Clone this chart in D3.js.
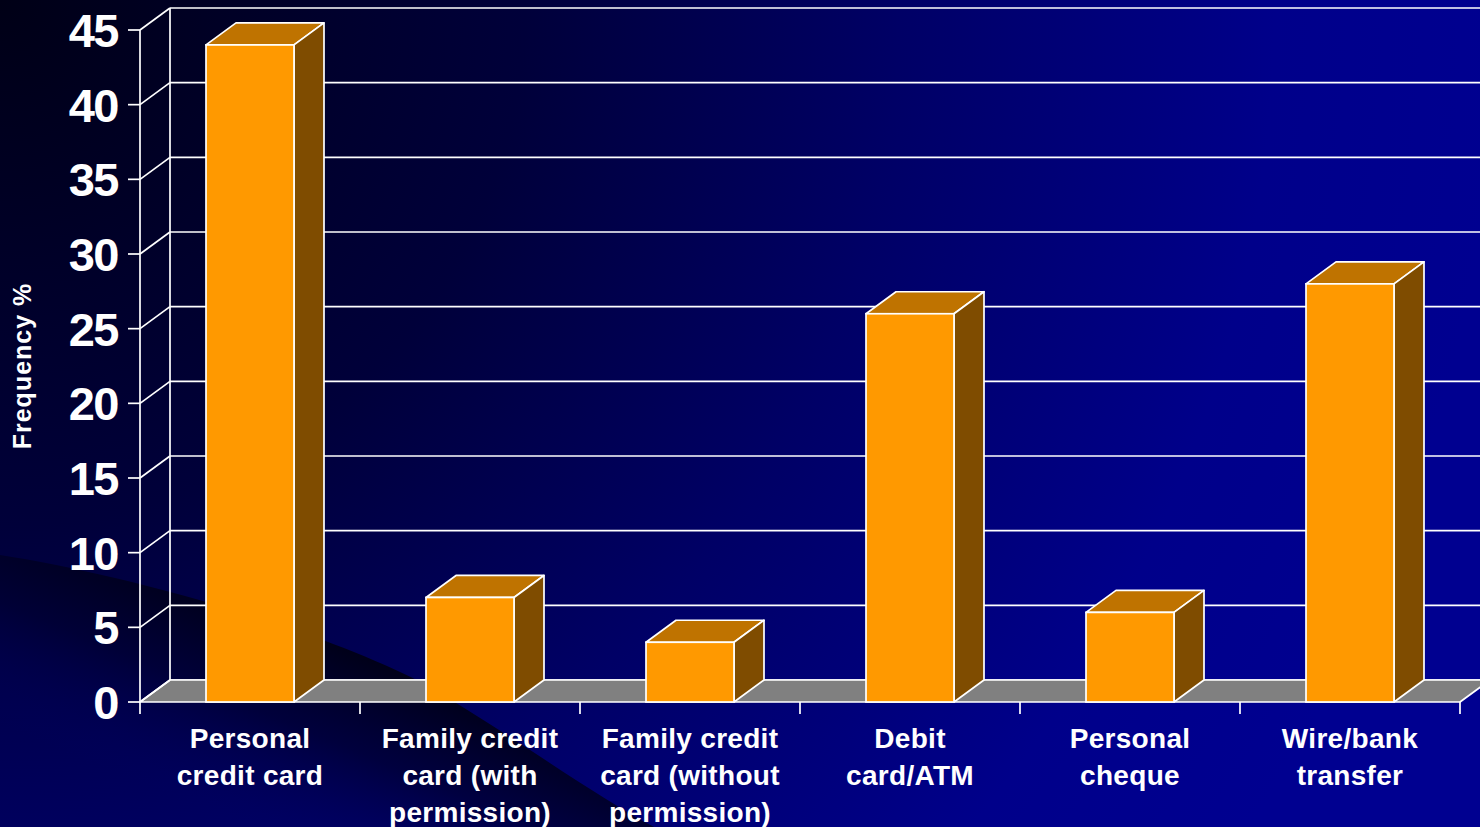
<!DOCTYPE html>
<html>
<head>
<meta charset="utf-8">
<script src="https://cdn.jsdelivr.net/npm/d3@7/dist/d3.min.js"></script>
<style>
  html, body { margin: 0; padding: 0; background: #000040; }
  svg { display: block; }
  text { font-family: "Liberation Sans", Arial, sans-serif; font-weight: bold; fill: #ffffff; }
</style>
</head>
<body>
<svg id="chart" width="1480" height="827"></svg>
<script>
// Payment method used, frequency in percent
const categories = [
  "Personal\ncredit card",
  "Family credit\ncard (with\npermission)",
  "Family credit\ncard (without\npermission)",
  "Debit\ncard/ATM",
  "Personal\ncheque",
  "Wire/bank\ntransfer"
];
const values = [44, 7, 4, 26, 6, 28];
const yTicks = [0, 5, 10, 15, 20, 25, 30, 35, 40, 45];
const yTitle = "Frequency %";

const W = 1480, H = 827;
const svg = d3.select("#chart");
const defs = svg.append("defs");

// Depth offset of the 3D back plane
const DX = 30, DY = -22;

// ---- background ----
const bg = defs.append("radialGradient")
  .attr("id", "bgGrad").attr("gradientUnits", "userSpaceOnUse")
  .attr("cx", 0).attr("cy", 0).attr("r", 1500);
bg.append("stop").attr("offset", 0).attr("stop-color", "#000016");
bg.append("stop").attr("offset", 0.35).attr("stop-color", "#00003a");
bg.append("stop").attr("offset", 0.6).attr("stop-color", "#000066");
bg.append("stop").attr("offset", 0.85).attr("stop-color", "#00008a");
bg.append("stop").attr("offset", 1).attr("stop-color", "#000090");
svg.append("rect").attr("width", W).attr("height", H).attr("fill", "url(#bgGrad)");

// darker sweep across the lower left, fading into the blue below it
const wedge = defs.append("linearGradient")
  .attr("id", "wedgeGrad").attr("gradientUnits", "userSpaceOnUse")
  .attr("x1", 330).attr("y1", 640).attr("x2", 250).attr("y2", 830);
wedge.append("stop").attr("offset", 0).attr("stop-color", "#000018").attr("stop-opacity", 1);
wedge.append("stop").attr("offset", 0.45).attr("stop-color", "#000030").attr("stop-opacity", 0.7);
wedge.append("stop").attr("offset", 1).attr("stop-color", "#000060").attr("stop-opacity", 0);
svg.append("path")
  .attr("d", "M0,555 C100,570 300,620 423,683 C520,740 600,800 660,830 L0,830 Z")
  .attr("fill", "url(#wedgeGrad)");

// ---- scales ----
const x = d3.scaleBand().domain(categories).range([140, 1460])
  .paddingInner(0.6).paddingOuter(0.3);
const y = d3.scaleLinear().domain([0, 45]).range([702, 30]);
const x0 = x.range()[0], x1 = x.range()[1];
const step = x.step();

const line = "#ffffff";
const g = svg.append("g");

// ---- back wall gridlines ----
g.selectAll("line.grid").data(yTicks).join("line")
  .attr("class", "grid")
  .attr("x1", x0 + DX).attr("x2", x1 + DX + 40)
  .attr("y1", d => y(d) + DY).attr("y2", d => y(d) + DY)
  .attr("stroke", line).attr("stroke-width", 1.7);

// left wall back edge
g.append("line").attr("x1", x0 + DX).attr("x2", x0 + DX)
  .attr("y1", y(0) + DY).attr("y2", y(45) + DY)
  .attr("stroke", line).attr("stroke-width", 1.7);

// ---- floor ----
g.append("path")
  .attr("d", `M${x0},${y(0)} L${x1},${y(0)} L${x1 + DX},${y(0) + DY} L${x0 + DX},${y(0) + DY} Z`)
  .attr("fill", "#808080").attr("stroke", line).attr("stroke-width", 1.7)
  .attr("stroke-linejoin", "round");

// depth diagonals on the left wall
g.selectAll("line.diag").data(yTicks).join("line")
  .attr("class", "diag")
  .attr("x1", x0).attr("x2", x0 + DX)
  .attr("y1", d => y(d)).attr("y2", d => y(d) + DY)
  .attr("stroke", line).attr("stroke-width", 1.7);

// front value axis
g.append("line").attr("x1", x0).attr("x2", x0)
  .attr("y1", y(0)).attr("y2", y(45))
  .attr("stroke", line).attr("stroke-width", 1.7);

// ---- bars (top, side, front) ----
const bars = g.selectAll("g.bar").data(categories.map((c, i) => ({ c, v: values[i] })))
  .join("g").attr("class", "bar");

bars.append("path")
  .attr("d", d => {
    const l = x(d.c), r = l + x.bandwidth(), t = y(d.v);
    return `M${l},${t} L${l + DX},${t + DY} L${r + DX},${t + DY} L${r},${t} Z`;
  })
  .attr("fill", "#bf7300").attr("stroke", line).attr("stroke-width", 1.7)
  .attr("stroke-linejoin", "round");

bars.append("path")
  .attr("d", d => {
    const r = x(d.c) + x.bandwidth(), t = y(d.v), b = y(0);
    return `M${r},${t} L${r + DX},${t + DY} L${r + DX},${b + DY} L${r},${b} Z`;
  })
  .attr("fill", "#7f4c00").attr("stroke", line).attr("stroke-width", 1.7)
  .attr("stroke-linejoin", "round");

bars.append("rect")
  .attr("x", d => x(d.c)).attr("width", x.bandwidth())
  .attr("y", d => y(d.v)).attr("height", d => y(0) - y(d.v))
  .attr("fill", "#ff9900").attr("stroke", line).attr("stroke-width", 1.7);

// ---- y axis ticks and labels ----
g.selectAll("line.ytick").data(yTicks).join("line")
  .attr("class", "ytick")
  .attr("x1", x0 - 12).attr("x2", x0)
  .attr("y1", d => y(d)).attr("y2", d => y(d))
  .attr("stroke", line).attr("stroke-width", 1.7);

g.selectAll("text.ylab").data(yTicks).join("text")
  .attr("class", "ylab")
  .attr("x", 118).attr("y", d => y(d) + 17)
  .attr("text-anchor", "end")
  .attr("font-size", 47).attr("letter-spacing", -1.5)
  .text(d => d);

// ---- category ticks and labels ----
const bounds = d3.range(categories.length + 1).map(i => x0 + i * step);
g.selectAll("line.xtick").data(bounds).join("line")
  .attr("class", "xtick")
  .attr("x1", d => d).attr("x2", d => d)
  .attr("y1", y(0)).attr("y2", y(0) + 12)
  .attr("stroke", line).attr("stroke-width", 1.7);

const labels = g.selectAll("text.xlab").data(categories).join("text")
  .attr("class", "xlab")
  .attr("text-anchor", "middle")
  .attr("font-size", 28).attr("letter-spacing", 0.3);
labels.each(function (c, i) {
  const cx = x0 + (i + 0.5) * step;
  d3.select(this).selectAll("tspan").data(c.split("\n")).join("tspan")
    .attr("x", cx).attr("y", (d, k) => 748 + k * 37)
    .text(d => d);
});

// ---- y axis title ----
svg.append("text")
  .attr("transform", "translate(31,366) rotate(-90)")
  .attr("text-anchor", "middle")
  .attr("font-size", 25).attr("letter-spacing", 1)
  .text(yTitle);
</script>
</body>
</html>
